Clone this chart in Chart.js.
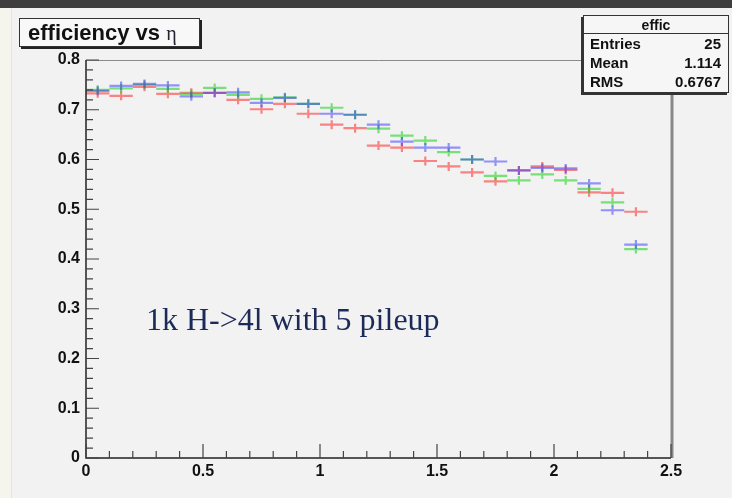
<!DOCTYPE html>
<html>
<head>
<title>efficiency vs eta</title>
<script src="https://cdn.jsdelivr.net/npm/chart.js"></script>
<style>
  body { margin: 0; background: #f2f2f2; }
  #wrap { position: relative; width: 732px; height: 498px; overflow: hidden; background: #f2f2f2; }
  #topbar { position: absolute; left: 0; top: 0; width: 732px; height: 8px; background: #3e3e3e; }
  #leftstrip { position: absolute; left: 0; top: 8px; width: 11px; height: 490px; background: #f5f5ee; border-right: 1px solid #e4e4dc; }
  canvas { position: absolute; left: 0; top: 0; }
  .title { position: absolute; left: 19px; top: 18px; width: 171px; height: 27px; background: #f8f8f8;
           border: 1px solid #333; box-shadow: 2px 2px 0 #222; font: bold 22px "Liberation Sans", Arial, sans-serif;
           line-height: 27px; color: #111; padding-left: 8px; box-sizing: content-box; white-space: nowrap; }
  .title .eta { font: 20px "Liberation Serif", serif; color: #223; }
  .stats { position: absolute; left: 583px; top: 15px; width: 144px; height: 76px; background: #f6f6f6;
           border: 1px solid #333; box-shadow: -2px 2px 0 #333; font-family: "Liberation Sans", Arial, sans-serif; color: #111; }
  .stats .hdr { height: 17px; border-bottom: 1px solid #333; text-align: center; font: bold 14px "Liberation Sans", Arial, sans-serif; line-height: 18px; }
  .stats .row { height: 19px; line-height: 19px; font-weight: bold; font-size: 15px; padding: 0 7px 0 6px; display: flex; justify-content: space-between; }
  .note { position: absolute; left: 146px; top: 304px; font: 32px "Liberation Serif", "Times New Roman", serif; line-height: 30px; color: #1c2a58; white-space: nowrap; }
</style>
</head>
<body>
<div id="wrap">
  <div id="topbar"></div>
  <div id="leftstrip"></div>
  <canvas id="effChart" width="732" height="498"></canvas>
  <div class="title">efficiency vs <span class="eta">η</span></div>
  <div class="stats">
    <div class="hdr">effic</div>
    <div class="row"><span>Entries</span><span>25</span></div>
    <div class="row"><span>Mean</span><span>1.114</span></div>
    <div class="row"><span>RMS</span><span>0.6767</span></div>
  </div>
  <div class="note">1k H-&gt;4l with 5 pileup</div>
</div>
<script>
// bin centres in eta (bin width 0.1)
const etaBins = [0.05, 0.15, 0.25, 0.35, 0.45, 0.55, 0.65, 0.75, 0.85, 0.95, 1.05, 1.15,
                 1.25, 1.35, 1.45, 1.55, 1.65, 1.75, 1.85, 1.95, 2.05, 2.15, 2.25, 2.35];
const binHalfWidth = 0.05;
const errY = 0.009;

const effRed   = [0.733, 0.728, 0.746, 0.732, 0.734, 0.734, 0.720, 0.701, 0.712, 0.692, 0.670, 0.663,
                  0.628, 0.624, 0.597, 0.586, 0.574, 0.556, 0.578, 0.586, 0.579, 0.534, 0.533, 0.495];
const effGreen = [0.740, 0.743, 0.750, 0.742, 0.732, 0.744, 0.730, 0.722, 0.725, 0.712, 0.704, 0.690,
                  0.662, 0.648, 0.638, 0.615, 0.600, 0.567, 0.558, 0.570, 0.558, 0.541, 0.514, 0.420];
const effBlue  = [0.738, 0.748, 0.752, 0.749, 0.727, 0.734, 0.735, 0.714, 0.724, 0.712, 0.692, 0.690,
                  0.670, 0.636, 0.624, 0.624, 0.600, 0.596, 0.578, 0.583, 0.582, 0.552, 0.498, 0.429];

const xTicks = [0, 0.5, 1, 1.5, 2, 2.5];
const xTickLabels = ['0', '0.5', '1', '1.5', '2', '2.5'];
const yTicks = [0, 0.1, 0.2, 0.3, 0.4, 0.5, 0.6, 0.7, 0.8];
const yTickLabels = ['0', '0.1', '0.2', '0.3', '0.4', '0.5', '0.6', '0.7', '0.8'];

const toPoints = vals => vals.map((v, i) => ({ x: etaBins[i], y: v }));

// horizontal bar = bin width, vertical bar = error
const errorBars = {
  id: 'errorBars',
  afterDatasetsDraw(chart) {
    const ctx = chart.ctx, xs = chart.scales.x, ys = chart.scales.y;
    chart.data.datasets.forEach(ds => {
      ctx.save();
      ctx.strokeStyle = ds.borderColor;
      ctx.lineWidth = 2.2;
      ds.data.forEach(p => {
        const x0 = xs.getPixelForValue(p.x - binHalfWidth);
        const x1 = xs.getPixelForValue(p.x + binHalfWidth);
        const xc = xs.getPixelForValue(p.x);
        const yc = ys.getPixelForValue(p.y);
        const ya = ys.getPixelForValue(p.y - errY);
        const yb = ys.getPixelForValue(p.y + errY);
        ctx.beginPath();
        ctx.moveTo(x0, yc); ctx.lineTo(x1, yc);
        ctx.moveTo(xc, ya); ctx.lineTo(xc, yb);
        ctx.stroke();
      });
      ctx.restore();
    });
  }
};

// ROOT style frame with inward ticks
const frame = {
  id: 'frame',
  afterDraw(chart) {
    const ctx = chart.ctx, a = chart.chartArea, xs = chart.scales.x, ys = chart.scales.y;
    ctx.save();
    ctx.strokeStyle = '#8a8a8a';
    ctx.lineWidth = 1;
    ctx.beginPath();
    ctx.moveTo(a.left, a.top + 0.5); ctx.lineTo(a.right, a.top + 0.5);
    ctx.stroke();
    ctx.lineWidth = 3;
    ctx.strokeStyle = '#888';
    ctx.beginPath();
    ctx.moveTo(a.right + 1, a.top); ctx.lineTo(a.right + 1, a.bottom);
    ctx.stroke();
    ctx.strokeStyle = '#222';
    ctx.lineWidth = 1.5;
    ctx.beginPath();
    ctx.moveTo(a.left, a.top); ctx.lineTo(a.left, a.bottom); ctx.lineTo(a.right, a.bottom);
    ctx.stroke();
    ctx.lineWidth = 1.2;
    ctx.strokeStyle = '#444';
    ctx.beginPath();
    for (let k = 0; k <= 40; k++) {
      const v = k * 0.02;
      const y = ys.getPixelForValue(v);
      const len = (k % 5 === 0) ? 13 : 7;
      ctx.moveTo(a.left, y); ctx.lineTo(a.left + len, y);
    }
    for (let k = 0; k <= 25; k++) {
      const v = k * 0.1;
      const x = xs.getPixelForValue(v);
      const len = (k % 5 === 0) ? 14 : 7;
      ctx.moveTo(x, a.bottom); ctx.lineTo(x, a.bottom - len);
    }
    ctx.stroke();
    ctx.restore();
  }
};

const tickFont = { family: '"Liberation Sans", Arial, sans-serif', size: 16, weight: 'bold' };

new Chart(document.getElementById('effChart').getContext('2d'), {
  type: 'scatter',
  data: {
    datasets: [
      { label: 'red', data: toPoints(effRed), borderColor: 'rgba(255,40,40,0.55)', backgroundColor: 'transparent', pointRadius: 0, showLine: false },
      { label: 'green', data: toPoints(effGreen), borderColor: 'rgba(20,210,20,0.55)', backgroundColor: 'transparent', pointRadius: 0, showLine: false },
      { label: 'blue', data: toPoints(effBlue), borderColor: 'rgba(50,50,255,0.5)', backgroundColor: 'transparent', pointRadius: 0, showLine: false }
    ]
  },
  options: {
    responsive: false,
    animation: false,
    devicePixelRatio: 1,
    layout: { padding: { left: 0, right: 61, top: 60, bottom: 0 } },
    plugins: { legend: { display: false }, tooltip: { enabled: false } },
    scales: {
      x: {
        type: 'linear', min: 0, max: 2.5,
        grid: { display: false, drawTicks: false },
        border: { display: false },
        afterBuildTicks: s => { s.ticks = xTicks.map(v => ({ value: v })); },
        afterFit: s => { s.height = 40; },
        ticks: { padding: 4, color: '#111', font: tickFont, maxRotation: 0,
                 callback: (v, i) => xTickLabels[i] }
      },
      y: {
        type: 'linear', min: 0, max: 0.8,
        grid: { display: false, drawTicks: false },
        border: { display: false },
        afterBuildTicks: s => { s.ticks = yTicks.map(v => ({ value: v })); },
        afterFit: s => { s.width = 86; },
        ticks: { padding: 6, color: '#111', font: tickFont,
                 callback: (v, i) => yTickLabels[i] }
      }
    }
  },
  plugins: [errorBars, frame]
});
</script>
</body>
</html>
